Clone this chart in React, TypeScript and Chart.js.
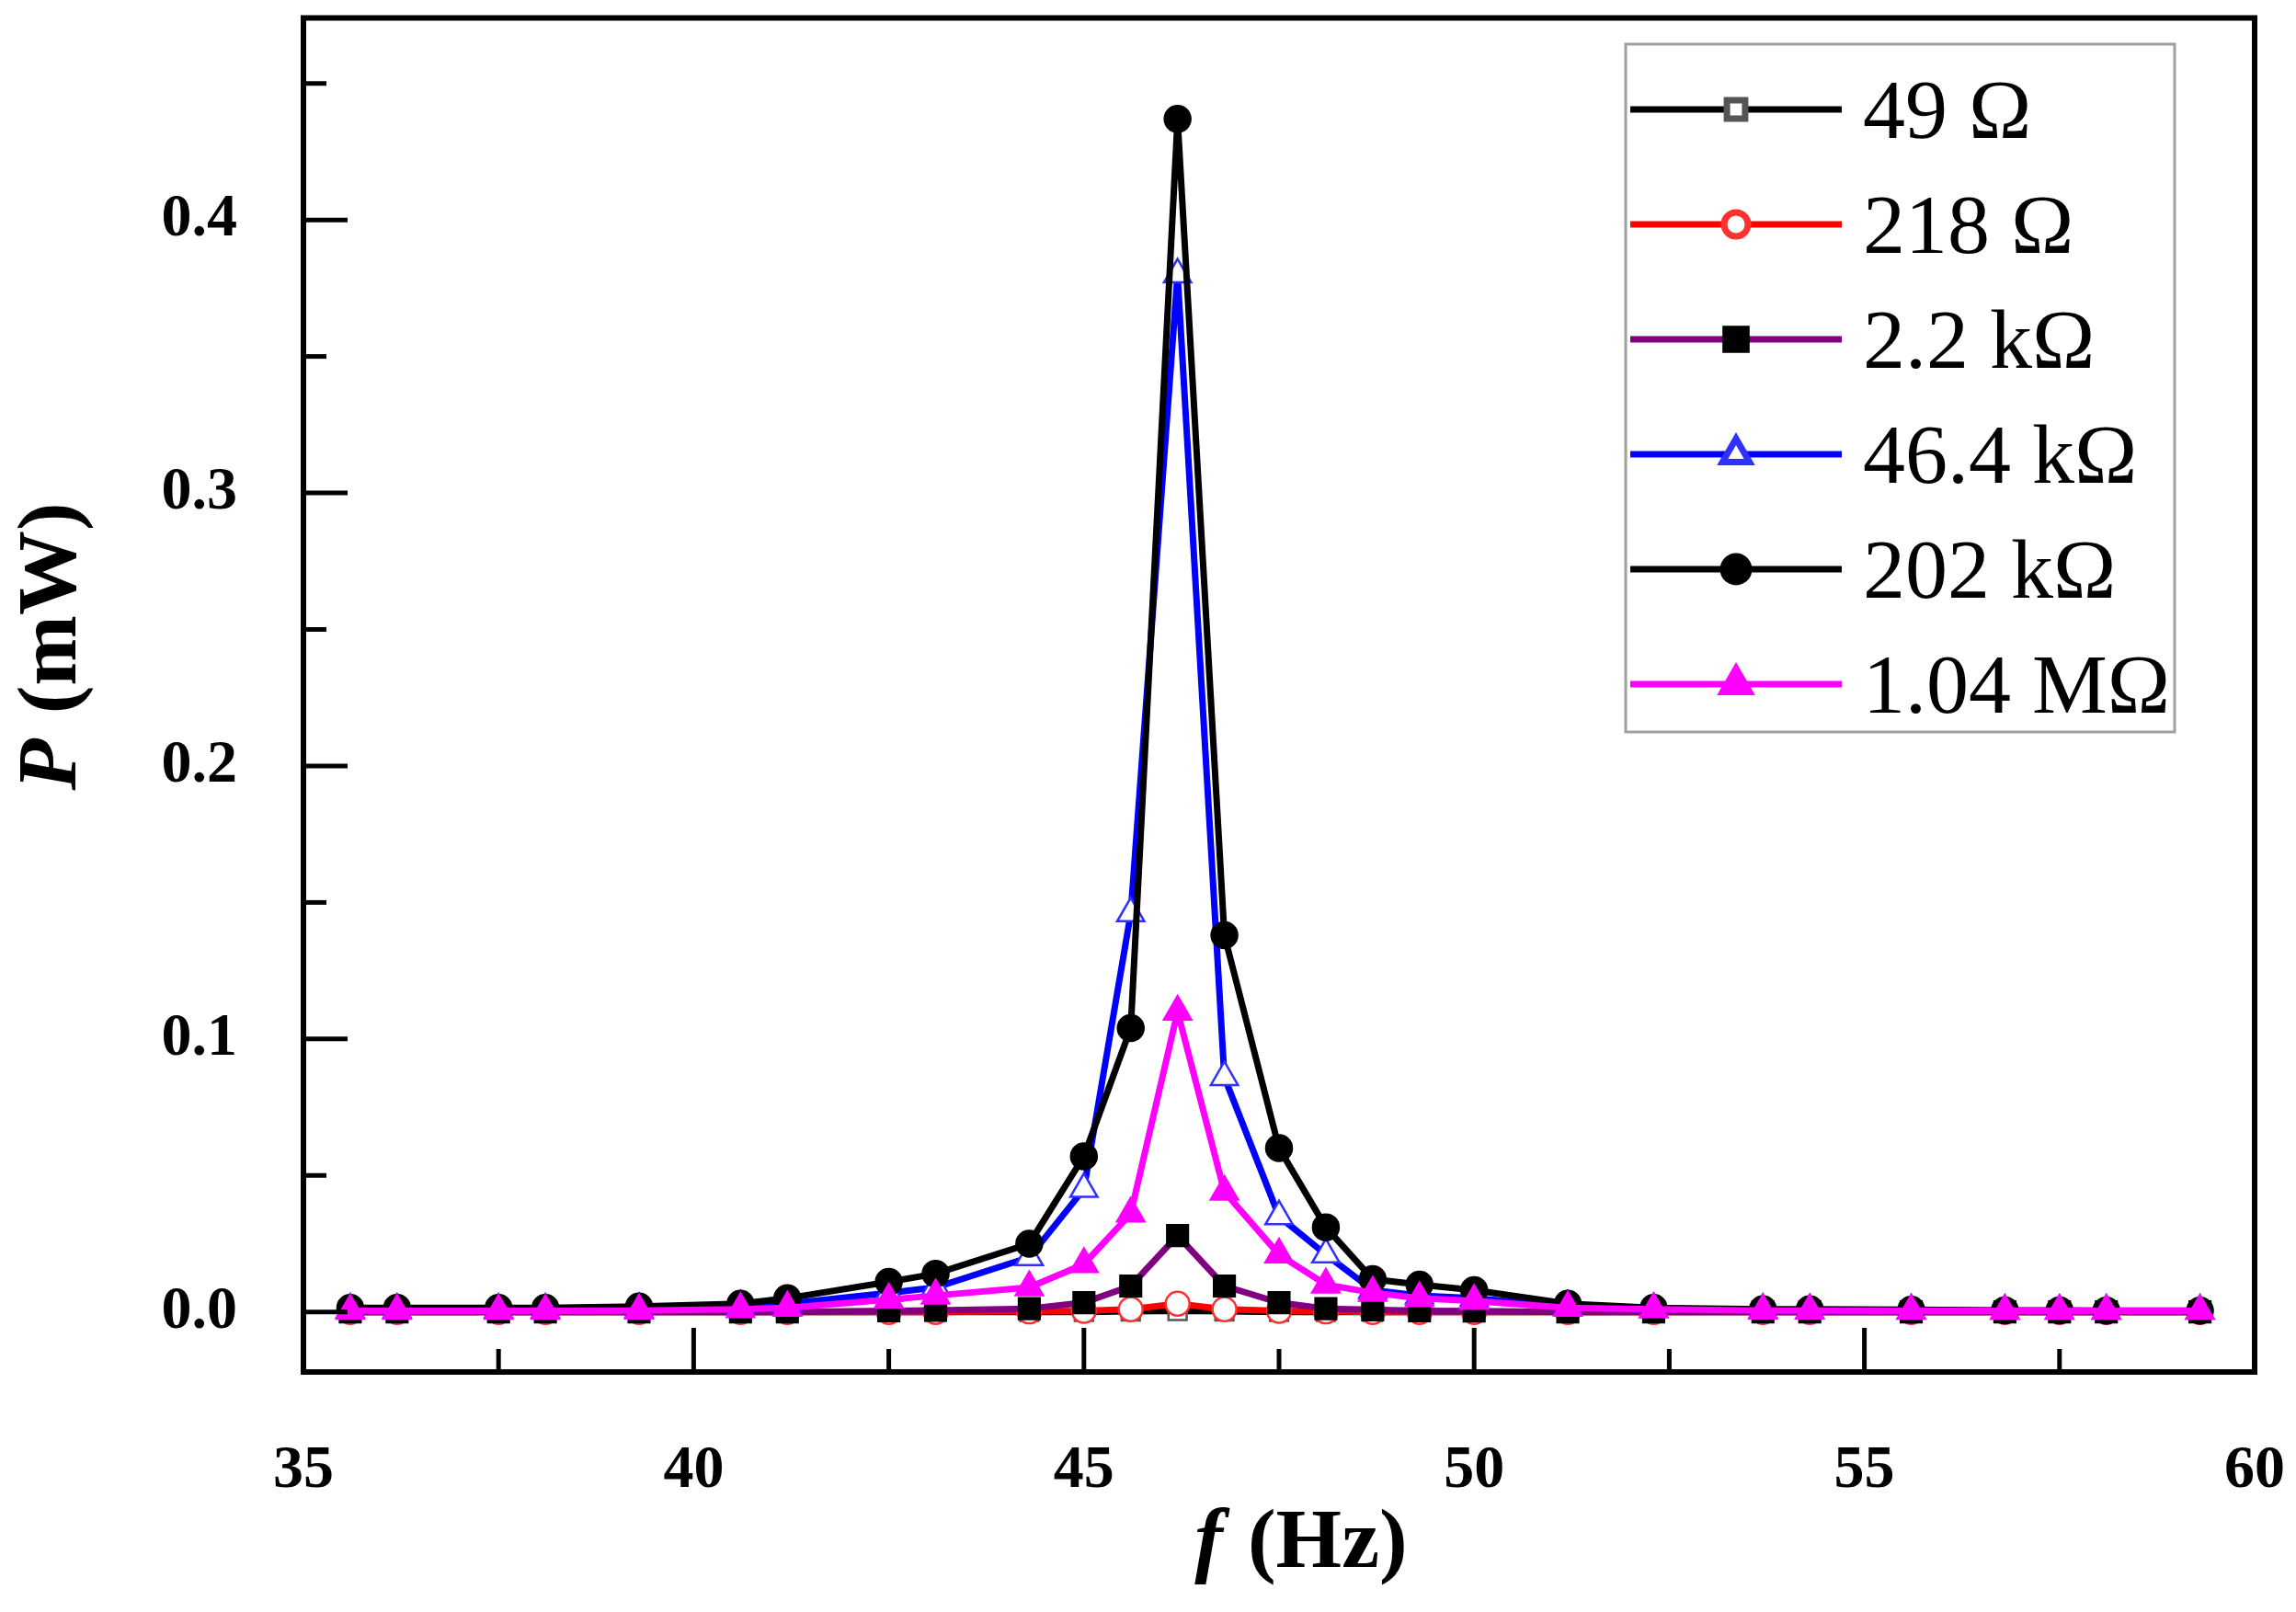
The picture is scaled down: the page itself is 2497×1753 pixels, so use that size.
import { useEffect, useRef } from "react";
import { Chart, registerables } from "chart.js";
import { drawPoint } from "chart.js/helpers";

Chart.register(...registerables);

// frequency (Hz), shared by every load
const freq = [
    35.6, 36.2, 37.5, 38.1, 39.3, 40.6, 41.2, 42.5, 43.1, 44.3, 45.0, 45.6, 46.2, 46.8,
    47.5, 48.1, 48.7, 49.3, 50.0, 51.2, 52.3, 53.7, 54.3, 55.6, 56.8, 57.5, 58.1, 59.3,
];

// power (mW) per load resistance
const p49 = [
    0, 0, 0, 0, 0, 0, 0, 0, 0, 0, 0, 0.0002, 0.0004, 0.0002,
    0, 0, 0, 0, 0, 0, 0, 0, 0, 0, 0, 0, 0, 0,
];
const p218 = [
    0, 0, 0, 0, 0, 0, 0, 0, 0, 0.0002, 0.0004, 0.001, 0.003, 0.001,
    0.0004, 0.0002, 0, 0, 0, 0, 0, 0, 0, 0, 0, 0, 0, 0,
];
const p2k2 = [
    0, 0, 0, 0, 0, 0, 0, 0.0004, 0.0006, 0.0012, 0.0034, 0.0095, 0.028, 0.0095,
    0.0034, 0.0012, 0.0008, 0.0004, 0.0003, 0, 0, 0, 0, 0, 0, 0, 0, 0,
];
const p46k4 = [
    0.0008, 0.0008, 0.0008, 0.0008, 0.001, 0.002, 0.003, 0.007, 0.009, 0.02, 0.045, 0.146, 0.38, 0.086,
    0.035, 0.021, 0.008, 0.006, 0.005, 0.002, 0.001, 0.0007, 0.0006, 0.0005, 0.0004, 0.0004, 0.0004, 0.0004,
];
const p202k = [
    0.0015, 0.0015, 0.0015, 0.0015, 0.002, 0.003, 0.005, 0.011, 0.014, 0.025, 0.057, 0.104, 0.437, 0.138,
    0.06, 0.031, 0.012, 0.01, 0.008, 0.003, 0.0015, 0.001, 0.001, 0.0008, 0.0006, 0.0006, 0.0005, 0.0005,
];
const p1M04 = [
    0.0004, 0.0004, 0.0004, 0.0004, 0.0005, 0.001, 0.0015, 0.0045, 0.006, 0.009, 0.0175, 0.036, 0.11, 0.044,
    0.021, 0.01, 0.007, 0.005, 0.004, 0.0015, 0.001, 0.0005, 0.0005, 0.0004, 0.0004, 0.0004, 0.0004, 0.0004,
];

const seriesNames = ["49 Ω", "218 Ω", "2.2 kΩ", "46.4 kΩ", "202 kΩ", "1.04 MΩ"];
const seriesValues = [p49, p218, p2k2, p46k4, p202k, p1M04];

const xTicks = [35, 40, 45, 50, 55, 60];
const xMinorTicks = [37.5, 42.5, 47.5, 52.5, 57.5];
const yTicks = [0, 0.1, 0.2, 0.3, 0.4];
const yMinorTicks = [0.05, 0.15, 0.25, 0.35, 0.45];

// look of each series
const lineColors = ["#000000", "#ff0000", "#800080", "#0000ff", "#000000", "#ff00ff"];
const markerFill = ["#ffffff", "#ffffff", "#000000", "#ffffff", "#000000", "#ff00ff"];
const markerEdge = ["#555555", "#ff3030", "#000000", "#3030ff", "#000000", "#ff00ff"];
const markerStyle = ["rect", "circle", "rect", "triangle", "circle", "triangle"];
const markerSize = [14, 13, 16, 17, 14, 17];

const SERIF = "'Liberation Serif', 'Times New Roman', serif";

const decorPlugin = {
    id: "decor",
    afterDraw(chart: any) {
        const { ctx, chartArea } = chart;
        const xs = chart.scales.x;
        const ys = chart.scales.y;
        const { left, right, top, bottom } = chartArea;

        ctx.save();
        ctx.strokeStyle = "#000";
        ctx.lineCap = "butt";

        // inward ticks
        ctx.lineWidth = 5;
        const tick = (v: number, len: number, horiz: boolean) => {
            ctx.beginPath();
            if (horiz) {
                const px = xs.getPixelForValue(v);
                ctx.moveTo(px, bottom);
                ctx.lineTo(px, bottom - len);
            } else {
                const py = ys.getPixelForValue(v);
                ctx.moveTo(left, py);
                ctx.lineTo(left + len, py);
            }
            ctx.stroke();
        };
        xTicks.forEach((v) => tick(v, 48, true));
        xMinorTicks.forEach((v) => tick(v, 25, true));
        yTicks.forEach((v) => tick(v, 48, false));
        yMinorTicks.forEach((v) => tick(v, 25, false));

        // frame
        ctx.lineWidth = 6;
        ctx.strokeRect(left, top, right - left, bottom - top);

        // legend
        const bx = 1768, by = 48, bw = 597, bh = 748;
        ctx.lineWidth = 3;
        ctx.strokeStyle = "#a0a0a0";
        ctx.strokeRect(bx, by, bw, bh);
        ctx.font = `92px ${SERIF}`;
        ctx.textBaseline = "alphabetic";
        ctx.textAlign = "left";
        seriesNames.forEach((name, i) => {
            const ry = 119 + i * 125;
            ctx.strokeStyle = lineColors[i];
            ctx.lineWidth = 7;
            ctx.beginPath();
            ctx.moveTo(1773, ry);
            ctx.lineTo(2003, ry);
            ctx.stroke();
            ctx.fillStyle = markerFill[i];
            ctx.strokeStyle = markerEdge[i];
            drawPoint(ctx, { pointStyle: markerStyle[i], radius: markerSize[i], rotation: 0, borderWidth: 2.5 }, 1888, ry);
            ctx.fillStyle = "#000";
            ctx.fillText(name, 2026, ry + 31);
        });

        // axis titles, italic symbol followed by upright unit
        const drawTitle = (sym: string, unit: string, cx: number, cy: number) => {
            ctx.fillStyle = "#000";
            ctx.textBaseline = "middle";
            ctx.textAlign = "left";
            const fSym = `italic bold 92px ${SERIF}`;
            const fUnit = `bold 92px ${SERIF}`;
            ctx.font = fSym;
            const w1 = ctx.measureText(sym).width;
            ctx.font = fUnit;
            const w2 = ctx.measureText(unit).width;
            const start = cx - (w1 + w2) / 2;
            ctx.font = fSym;
            ctx.fillText(sym, start, cy);
            ctx.font = fUnit;
            ctx.fillText(unit, start + w1 + 4, cy);
        };
        drawTitle("f", " (Hz)", (left + right) / 2 + 22, 1680);
        ctx.save();
        ctx.translate(58, 705);
        ctx.rotate(-Math.PI / 2);
        drawTitle("P", " (mW)", 0, 0);
        ctx.restore();

        ctx.restore();
    },
};

export default function App() {
    const canvasRef = useRef<HTMLCanvasElement | null>(null);

    useEffect(() => {
        document.body.style.margin = "0";
        if (!canvasRef.current) return;
        const ctx = canvasRef.current.getContext("2d");
        if (!ctx) return;

        const chart = new Chart(ctx, {
            type: "line",
            data: {
                datasets: seriesValues.map((vals, i) => ({
                    label: seriesNames[i],
                    data: vals.map((y, k) => ({ x: freq[k], y })),
                    borderColor: lineColors[i],
                    borderWidth: 7,
                    backgroundColor: markerFill[i],
                    pointBackgroundColor: markerFill[i],
                    pointBorderColor: markerEdge[i],
                    pointBorderWidth: 2.5,
                    pointStyle: markerStyle[i],
                    pointRadius: markerSize[i],
                    pointHoverRadius: markerSize[i],
                    tension: 0,
                    fill: false,
                    order: seriesNames.length - i,
                })),
            },
            options: {
                responsive: false,
                animation: false,
                devicePixelRatio: 1,
                layout: { padding: { left: 0, top: 19, right: 45, bottom: 0 } },
                plugins: {
                    legend: { display: false },
                    tooltip: { enabled: false },
                },
                scales: {
                    x: {
                        type: "linear",
                        min: 35,
                        max: 60,
                        grid: { display: false },
                        border: { display: false },
                        afterFit: (s: any) => {
                            s.height = 261;
                            s.paddingLeft = 0;
                            s.paddingRight = 0;
                        },
                        afterBuildTicks: (s: any) => {
                            s.ticks = xTicks.map((v) => ({ value: v }));
                        },
                        ticks: {
                            padding: 60,
                            color: "#000",
                            maxRotation: 0,
                            font: { family: SERIF, size: 66, weight: "bold" },
                            callback: (v: any) => String(v),
                        },
                    },
                    y: {
                        type: "linear",
                        min: -0.022,
                        max: 0.474,
                        grid: { display: false },
                        border: { display: false },
                        afterFit: (s: any) => {
                            s.width = 330;
                            s.paddingTop = 0;
                            s.paddingBottom = 0;
                        },
                        afterBuildTicks: (s: any) => {
                            s.ticks = yTicks.map((v) => ({ value: v }));
                        },
                        ticks: {
                            padding: 64,
                            color: "#000",
                            font: { family: SERIF, size: 66, weight: "bold" },
                            callback: (v: any) => Number(v).toFixed(1),
                        },
                    },
                },
            },
            plugins: [decorPlugin],
        });

        return () => {
            chart.destroy();
        };
    }, []);

    return (
        <div style={{ width: 2497, height: 1753, background: "#fff" }}>
            <canvas ref={canvasRef} width={2497} height={1753} style={{ display: "block" }}></canvas>
        </div>
    );
}
